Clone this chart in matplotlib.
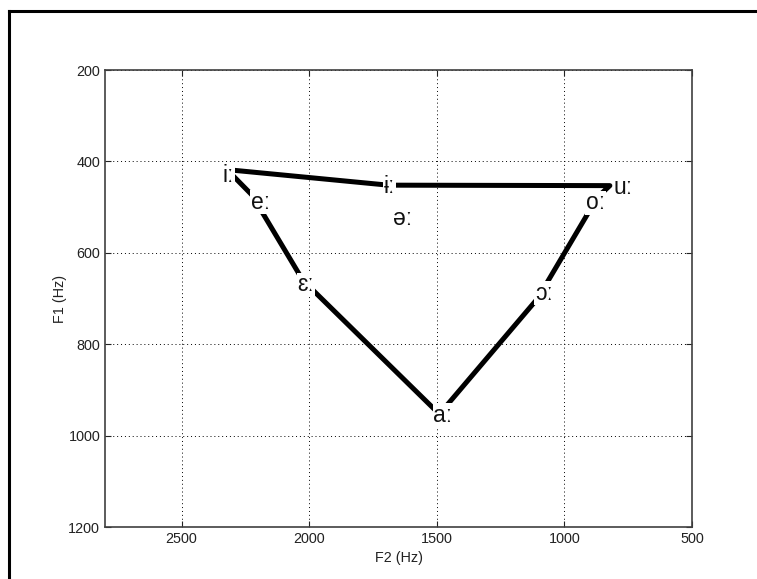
import matplotlib
matplotlib.use('Agg')
import matplotlib.pyplot as plt
from matplotlib.lines import Line2D

plt.rcParams['font.family'] = ['Liberation Sans', 'DejaVu Sans']

# vowel chart: vertices of the outline (F2, F1 in Hz)
vowels   = ['ɨː', 'iː', 'eː', 'ɛː', 'aː', 'ɔː', 'oː', 'uː', 'ɨː']
vert_f2  = [1690, 2322, 2225, 2025, 1490, 1105, 870, 822, 1690]
vert_f1  = [452, 418, 473, 660, 953, 700, 478, 453, 452]

# label positions (F2, F1 in Hz)
lab_text = ['iː', 'eː', 'ɛː', 'ɨː', 'əː', 'uː', 'oː', 'ɔː', 'aː']
lab_f2   = [2317, 2191, 2014, 1684, 1633, 769, 879, 1080, 1476]
lab_f1   = [430, 489, 670, 454, 524, 458, 491, 688, 955]

xticks = [2500, 2000, 1500, 1000, 500]
yticks = [200, 400, 600, 800, 1000, 1200]

fig = plt.figure(figsize=(7.57, 5.79), dpi=100)
ax = fig.add_axes([0.1387, 0.0898, 0.7755, 0.7893])

ax.plot(vert_f2, vert_f1, color='black', linewidth=3.6,
        solid_capstyle='butt', solid_joinstyle='round', zorder=2)

for t, x, y in zip(lab_text, lab_f2, lab_f1):
    ax.text(x, y, t, ha='center', va='center', fontsize=16.5,
            color='#111111', zorder=3,
            bbox=dict(facecolor='white', edgecolor='none', pad=0.5))

ax.set_xlim(2800, 500)
ax.set_ylim(1200, 200)
ax.set_xticks(xticks)
ax.set_yticks(yticks)
ax.tick_params(direction='in', length=4, width=0.8, labelsize=10.4,
               top=True, right=True, colors='#222222')
ax.grid(True, color='black', linestyle=(0, (1, 3)), linewidth=0.7)
ax.set_axisbelow(True)
for s in ax.spines.values():
    s.set_color('#404040')
    s.set_linewidth(1.2)

ax.set_xlabel('F2 (Hz)', fontsize=10.4, color='#222222', labelpad=4)
ax.set_ylabel('F1 (Hz)', fontsize=10.4, color='#222222', labelpad=1)

# page frame (left and top edges)
fig.add_artist(Line2D([9 / 757, 9 / 757], [0, 1 - 11 / 579],
                      transform=fig.transFigure, color='black', linewidth=2.2))
fig.add_artist(Line2D([9 / 757, 1], [1 - 11 / 579, 1 - 11 / 579],
                      transform=fig.transFigure, color='black', linewidth=2.2))

fig.savefig('out.png', dpi=100)
